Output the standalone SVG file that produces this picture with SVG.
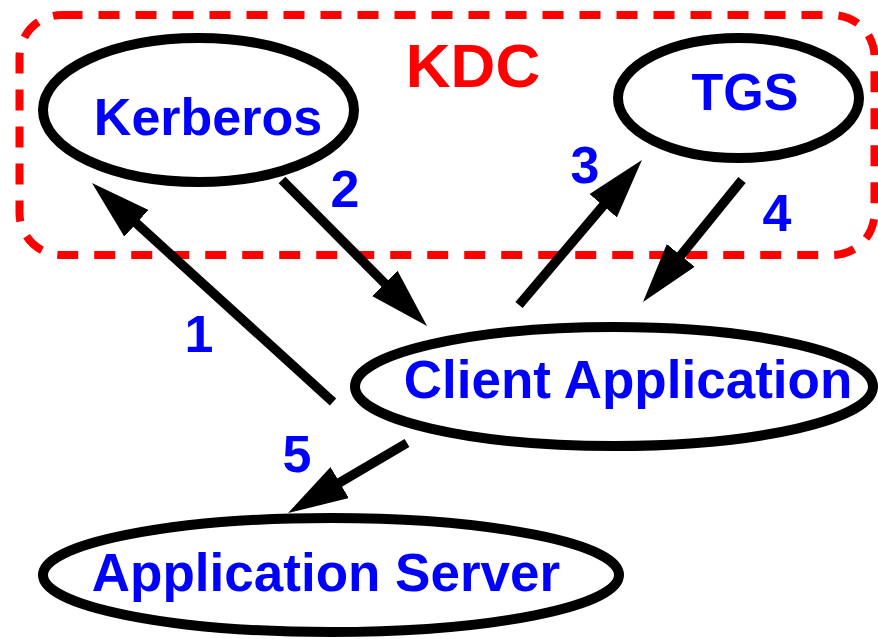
<svg xmlns="http://www.w3.org/2000/svg" width="878" height="639" viewBox="0 0 878 639">
<style>
.node ellipse{fill:#fff;stroke:#000;stroke-width:10}
.lbl{font-family:"Liberation Sans",Arial,sans-serif;font-weight:bold;font-size:52px;fill:#0000ff;text-anchor:middle}
.big{font-size:53px}
.conn path{stroke:#000;stroke-width:9.5;fill:none;marker-end:url(#ah)}
</style>
<defs>
<marker id="ah" markerUnits="userSpaceOnUse" markerWidth="60" markerHeight="36" refX="10" refY="18" orient="auto" viewBox="0 0 60 36">
<path d="M0,0 L60,18 L0,36 z" fill="#000"/>
</marker>
</defs>
<rect width="878" height="639" fill="#fff"/>
<g id="kdc">
<rect x="19.5" y="15" width="855" height="240" rx="42" ry="42" fill="none" stroke="#ff0000" stroke-width="8" stroke-dasharray="21 16"/>
<text x="473" y="87" style="font-family:'Liberation Sans',Arial,sans-serif;font-weight:bold;font-size:62px;fill:#ff0000;text-anchor:middle">KDC</text>
</g>
<g id="kerberos" class="node">
<ellipse cx="198.5" cy="110" rx="155.5" ry="72"/>
<text class="lbl" x="208" y="135">Kerberos</text>
</g>
<g id="tgs" class="node">
<ellipse cx="738.5" cy="98" rx="120.5" ry="60"/>
<text class="lbl" x="745" y="110">TGS</text>
</g>
<g id="client" class="node">
<ellipse cx="614" cy="386.5" rx="259" ry="59.5"/>
<text class="lbl big" x="628" y="398">Client Application</text>
</g>
<g id="appserver" class="node">
<ellipse cx="331" cy="575" rx="288" ry="57"/>
<text class="lbl big" x="326" y="591">Application Server</text>
</g>
<g id="connectors" class="conn">
<path d="M333,402 L129,216.6"/>
<path d="M282,180 L391.8,290.5"/>
<path d="M519,305 L609.6,198.1"/>
<path d="M742,180 L674.5,263.2"/>
<path d="M407,443 L331.1,487.7"/>
</g>
<g id="labels">
<text class="lbl" x="199" y="352">1</text>
<text class="lbl" x="345" y="207">2</text>
<text class="lbl" x="585" y="183">3</text>
<text class="lbl" x="777" y="231">4</text>
<text class="lbl" x="297" y="472">5</text>
</g>
</svg>
